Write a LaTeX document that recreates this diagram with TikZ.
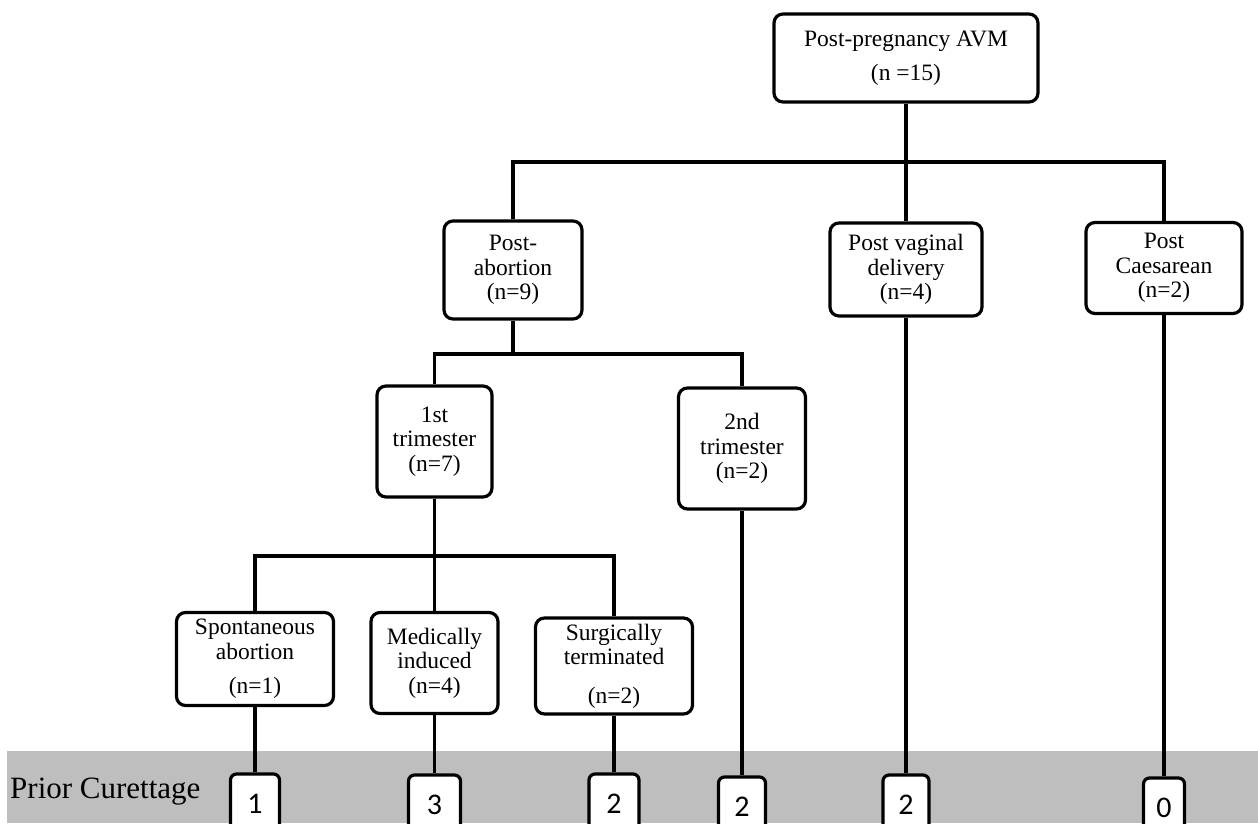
\documentclass[tikz,border=0pt]{standalone}
\usepackage{fontspec}
\setmainfont{Liberation Serif}
\newfontfamily\digitfont{Carlito}
\definecolor{bandgray}{RGB}{190,190,190}
\begin{document}
\begin{tikzpicture}[x=1pt,y=-1pt,
  box/.style={draw=black, line width=3.2pt, rounded corners=9pt, fill=white, align=center, inner sep=0pt, font=\fontsize{23.5}{24.5}\selectfont},
  numbox/.style={draw=black, line width=3.2pt, rounded corners=6pt, fill=white, inner sep=0pt, minimum height=60pt, font=\digitfont\fontsize{30}{32}\selectfont},
  conn/.style={line width=3.2pt}]
\clip (0,0) rectangle (1258,823);
\fill[white] (0,0) rectangle (1258,823);
\fill[bandgray] (7,751) rectangle (1258,823);
\node[anchor=base west, inner sep=0pt, font=\fontsize{31}{33}\selectfont] (lbl) at (10,798) {Prior Curettage};

% tree nodes
\node[box, minimum width=264pt, minimum height=88pt] (top) at (906,58) {Post-pregnancy AVM\\[10pt](n =15)};
\node[box, minimum width=138pt, minimum height=98pt] (pa) at (513,270) {Post-\\abortion\\(n=9)};
\node[box, minimum width=152pt, minimum height=93pt] (pvd) at (906,269.5) {Post vaginal\\delivery\\(n=4)};
\node[box, minimum width=156pt, minimum height=91pt] (pc) at (1164,268) {Post\\Caesarean\\(n=2)};
\node[box, minimum width=115pt, minimum height=111pt] (t1) at (434.5,441.5) {1st\\trimester\\(n=7)};
\node[box, minimum width=127pt, minimum height=121pt] (t2) at (742,448.5) {2nd\\trimester\\(n=2)};
\node[box, minimum width=157pt, minimum height=93pt] (sp) at (255,659) {Spontaneous\\abortion\\[10pt](n=1)};
\node[box, minimum width=127pt, minimum height=101pt] (mi) at (434.5,663) {Medically\\induced\\(n=4)};
\node[box, minimum width=157pt, minimum height=96pt] (st) at (614,666) {Surgically\\terminated\\[14pt](n=2)};

% bottom count boxes
\node[numbox, minimum width=49pt] (b1) at (255,804) {1};
\node[numbox, minimum width=52pt] (b3) at (434.5,805) {3};
\node[numbox, minimum width=50pt] (b2a) at (614,804) {2};
\node[numbox, minimum width=47pt] (b2b) at (742,807) {2};
\node[numbox, minimum width=46pt] (b2c) at (906,805) {2};
\node[numbox, minimum width=41pt] (b0) at (1164,808) {0};

% junctions
\coordinate (j1) at (906,162);
\coordinate (j2) at (513,354);
\coordinate (j3) at (434.5,556);

% connectors
\draw[conn] (top.south) -- (j1);
\draw[conn] (pa.north) |- (j1) -| (pc.north);
\draw[conn] (j1) -- (pvd.north);
\draw[conn] (pa.south) -- (j2);
\draw[conn] (t1.north) |- (j2) -| (t2.north);
\draw[conn] (t1.south) -- (mi.north);
\draw[conn] (sp.north) |- (j3) -| (st.north);
\draw[conn] (sp.south) -- (b1.north);
\draw[conn] (mi.south) -- (b3.north);
\draw[conn] (st.south) -- (b2a.north);
\draw[conn] (t2.south) -- (b2b.north);
\draw[conn] (pvd.south) -- (b2c.north);
\draw[conn] (pc.south) -- (b0.north);
\end{tikzpicture}
\end{document}
